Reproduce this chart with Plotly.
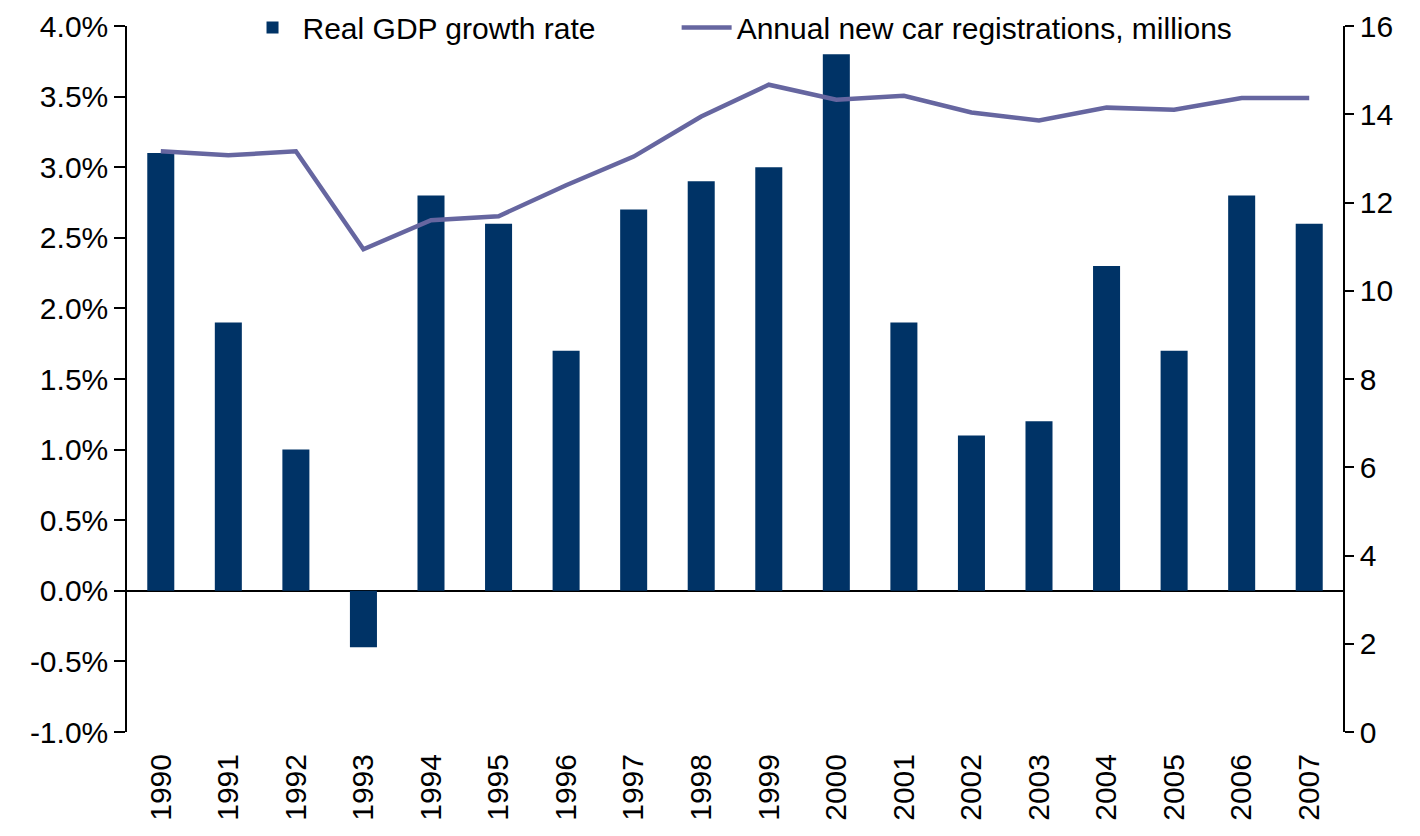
import plotly.graph_objects as go

years = ["1990", "1991", "1992", "1993", "1994", "1995", "1996", "1997", "1998",
         "1999", "2000", "2001", "2002", "2003", "2004", "2005", "2006", "2007"]
gdp_growth = [3.1, 1.9, 1.0, -0.4, 2.8, 2.6, 1.7, 2.7, 2.9, 3.0, 3.8, 1.9, 1.1, 1.2,
              2.3, 1.7, 2.8, 2.6]
car_regs = [13.16, 13.07, 13.16, 10.94, 11.60, 11.69, 12.39, 13.04, 13.95, 14.67,
            14.33, 14.42, 14.04, 13.86, 14.15, 14.10, 14.37, 14.37]
left_ticks = [-1.0, -0.5, 0.0, 0.5, 1.0, 1.5, 2.0, 2.5, 3.0, 3.5, 4.0]
right_ticks = [0, 2, 4, 6, 8, 10, 12, 14, 16]

FONT = "Liberation Sans, Arial, sans-serif"
FS = 30

fig = go.Figure()
fig.add_trace(go.Bar(x=years, y=gdp_growth, name="Real GDP growth rate",
                     marker=dict(color="#003366", line=dict(width=0)),
                     width=0.4, yaxis="y", legend="legend"))
fig.add_trace(go.Scatter(x=years, y=car_regs, name="Annual new car registrations, millions",
                         mode="lines", line=dict(color="#6666A0", width=4.5),
                         yaxis="y2", legend="legend2"))

legend_common = dict(orientation="h", y=0.998, yanchor="middle", xanchor="left",
                     bgcolor="rgba(0,0,0,0)", font=dict(size=FS), itemwidth=50)

fig.update_layout(
    width=1420, height=836,
    margin=dict(l=119, r=85, t=18, b=112, autoexpand=False),
    paper_bgcolor="white", plot_bgcolor="white",
    font=dict(family=FONT, size=FS, color="black"),
    showlegend=True,
    legend=dict(x=0.095, **legend_common),
    legend2=dict(x=0.452, **legend_common),
    bargap=0.6,
    xaxis=dict(type="category", showgrid=False, showline=False, ticks="",
               tickangle=-90, ticklabelstandoff=15, tickfont=dict(size=FS),
               ticklabeloverflow="allow"),
    yaxis=dict(range=[-1.0, 4.0], tickvals=left_ticks,
               ticktext=[f"{v:.1f}%" for v in left_ticks],
               showgrid=False, showline=True, linecolor="black", linewidth=1.5,
               ticks="outside", ticklen=11, tickwidth=1.5, tickcolor="black",
               zeroline=True, zerolinecolor="black", zerolinewidth=1.5,
               tickfont=dict(size=FS), ticklabeloverflow="allow"),
    yaxis2=dict(range=[0, 16], tickvals=right_ticks, overlaying="y", side="right",
                showgrid=False, showline=True, linecolor="black", linewidth=1.5,
                ticks="outside", ticklen=9, tickwidth=1.5, tickcolor="black",
                zeroline=False, tickfont=dict(size=FS), ticklabeloverflow="allow"),
)

fig.write_html("out.html")
